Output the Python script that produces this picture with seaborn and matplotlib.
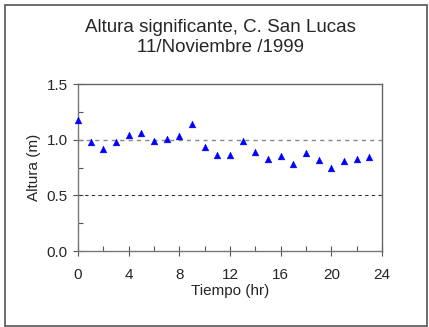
import matplotlib
matplotlib.use("Agg")
import matplotlib.pyplot as plt
from matplotlib.patches import Rectangle
from matplotlib.ticker import MultipleLocator
import seaborn as sns
import pandas as pd

# Significant wave height, hourly readings
hours = list(range(24))
height_m = [1.18, 0.98, 0.92, 0.98, 1.04, 1.06, 0.99, 1.01, 1.03, 1.14,
            0.93, 0.86, 0.86, 0.99, 0.89, 0.83, 0.85, 0.78, 0.88, 0.82,
            0.75, 0.81, 0.83, 0.84]
x_ticks = [0, 4, 8, 12, 16, 20, 24]
y_ticks = [0.0, 0.5, 1.0, 1.5]

df = pd.DataFrame({"hora": hours, "altura": height_m})

sns.set_theme(style="white")
plt.rcParams["font.family"] = ["Liberation Sans", "DejaVu Sans"]

fig = plt.figure(figsize=(4.29, 3.27), dpi=100)
fig.patches.append(Rectangle((5 / 429, 1 / 327), 422 / 429, 321 / 327,
                             transform=fig.transFigure, fill=False,
                             edgecolor="#555555", linewidth=1.2))
ax = fig.add_axes([0.1818, 0.2324, 0.7086, 0.5107])

# reference lines
ax.axhline(1.0, color="#888888", linestyle=(0, (3, 3)), linewidth=1.0, zorder=1)
ax.axhline(0.5, color="#333333", linestyle=(0, (3, 3)), linewidth=0.8, zorder=1)

sns.scatterplot(data=df, x="hora", y="altura", marker="^", color="#0000ff",
                s=24, edgecolor="#0000ff", linewidth=0.3, ax=ax, zorder=3,
                clip_on=False)

ax.set_xlim(0, 24)
ax.set_ylim(0, 1.5)
ax.set_xticks(x_ticks)
ax.set_yticks(y_ticks)
ax.set_yticklabels([f"{v:.1f}" for v in y_ticks])
ax.xaxis.set_minor_locator(MultipleLocator(2))
ax.yaxis.set_minor_locator(MultipleLocator(0.25))
ax.tick_params(axis="both", which="major", direction="inout", length=7,
               width=0.8, color="#555555", labelsize=11, pad=4,
               bottom=True, left=True)
ax.tick_params(axis="x", which="major", pad=8.5)
ax.tick_params(axis="both", which="minor", direction="in", length=3.5,
               width=0.8, color="#555555", bottom=True, left=True)

for side, sp in ax.spines.items():
    sp.set_visible(True)
    sp.set_linewidth(1.0)
    sp.set_color("#666666" if side in ("top", "right") else "#777777")

ax.set_xlabel("Tiempo (hr)", fontsize=11, labelpad=2)
ax.set_ylabel("Altura (m)", fontsize=11, labelpad=4)
fig.text(0.513, 0.886, "Altura significante, C. San Lucas\n11/Noviembre /1999",
         ha="center", va="center", fontsize=13.5, linespacing=1.25)

fig.savefig("out.png", dpi=100, facecolor="white")
